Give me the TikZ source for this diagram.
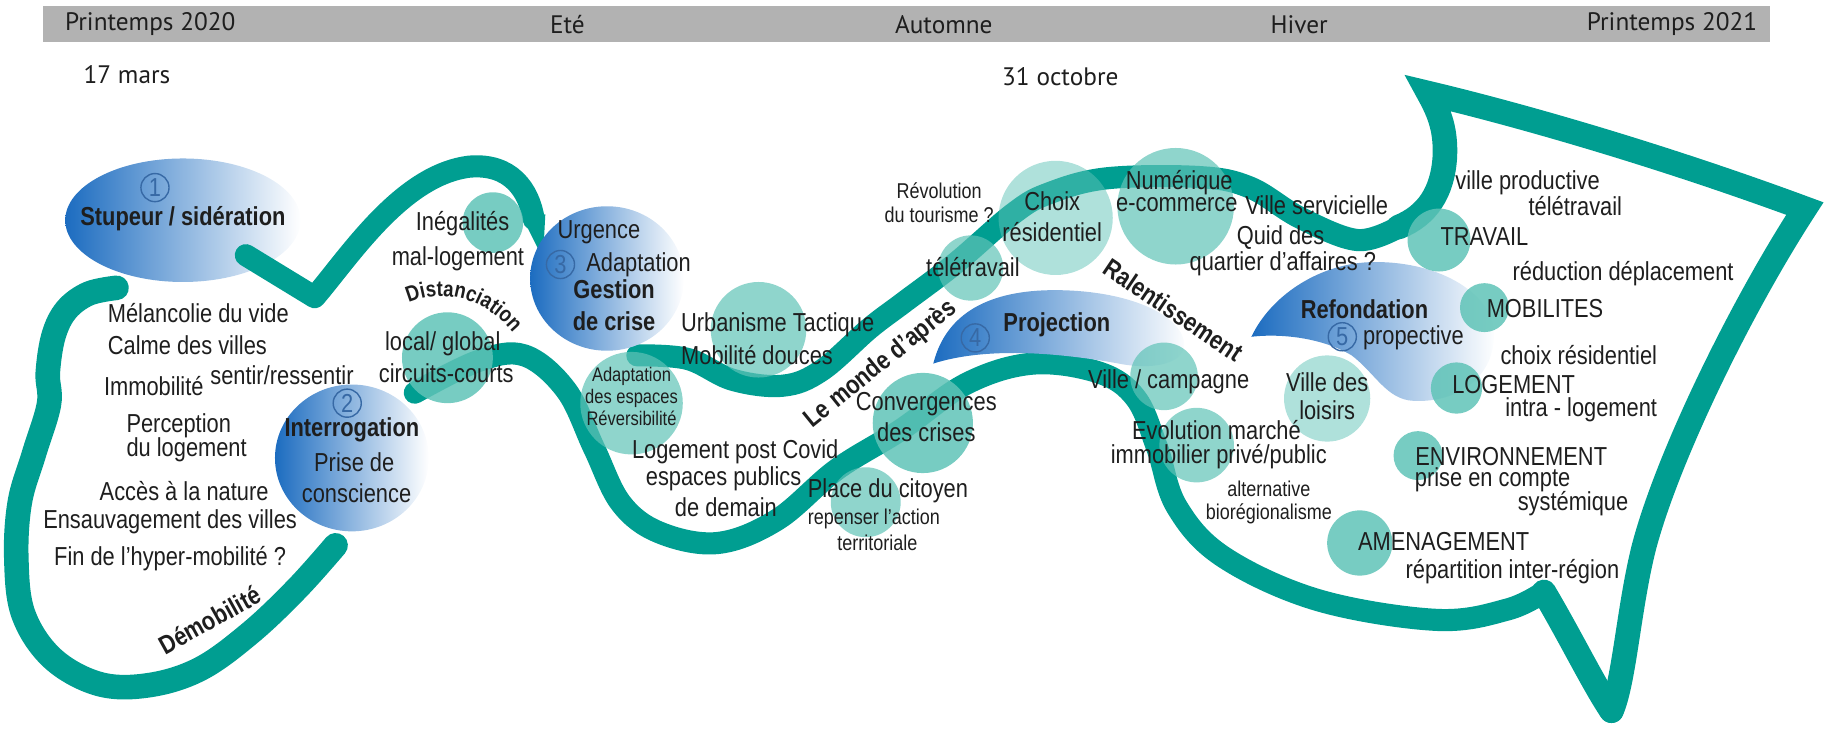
\documentclass[tikz,border=0pt]{standalone}
\usepackage{fontspec}
\setmainfont[FakeStretch=0.84]{Liberation Sans}
\newfontfamily\barfont{PT Sans}
\usetikzlibrary{decorations.text}

\definecolor{ribbonC}{RGB}{0,158,145}
\definecolor{bubbleC}{RGB}{95,195,183}
\definecolor{blueD}{RGB}{28,108,192}
\definecolor{barC}{RGB}{178,178,178}
\definecolor{inkC}{RGB}{30,30,30}
\definecolor{numC}{RGB}{55,105,165}

\tikzset{
    ribbon/.style={draw=ribbonC, line width=6.3pt, line cap=round, line join=round},
    bubble/.style={fill=bubbleC, fill opacity=0.85},
    midbubble/.style={fill=bubbleC, fill opacity=0.7},
    palebubble/.style={fill=bubbleC, fill opacity=0.5},
    blueshade/.style={left color=blueD, right color=white},
    lbl/.style={inner sep=0pt, text=inkC, align=center, font=\fontsize{7.4}{8.9}\selectfont},
    smalllbl/.style={lbl, font=\fontsize{6.1}{6.6}\selectfont},
    phase/.style={lbl, font=\bfseries\fontsize{7.4}{8.9}\selectfont},
    num/.style={circle, draw=numC, line width=0.4pt, text=numC, inner sep=0pt, minimum size=8pt, font=\fontsize{7.4}{8}\selectfont},
    season/.style={inner sep=0pt, text=inkC, font=\barfont\fontsize{7.2}{8}\selectfont}
}

\begin{document}
\begin{tikzpicture}[x=0.011652cm, y=-0.011652cm]
    \useasboundingbox (0,0) rectangle (1568,627);

    \fill[barC] (37,5) rectangle (1519,36);
    \node[season] (spring20) at (129,21) {Printemps 2020};
    \node[season] (summer) at (487,21) {Eté};
    \node[season] (autumn) at (810,21) {Automne};
    \node[season] (winter) at (1115,21) {Hiver};
    \node[season] (spring21) at (1435,21) {Printemps 2021};
    \node[season] (mars) at (109,64) {17 mars};
    \node[season] (octobre) at (910,66) {31 octobre};

    \shade[blueshade] (157,189) ellipse [x radius=101, y radius=53];

    \draw[ribbon, line width=7pt] plot[smooth, tension=0.6] coordinates {(100,247) (76,252) (57,266) (46,288) (41,320) (42,347) (29,390) (17,431) (14,479) (20,527) (45,565) (85,587) (128,588) (172,574) (215,543) (255,505) (288,468)};
    \draw[ribbon] (211,219) -- (270,255) .. controls (300,220) and (345,150) .. (403,143) .. controls (438,140) and (454,163) .. (458,188);
    \fill[ribbonC] (448,186) -- (468,184) -- (466,222) -- cycle;
    \draw[ribbon] plot[smooth, tension=0.6] coordinates {(356,337) (410,310) (450,305) (486,335) (510,385) (533,432) (566,457) (616,466) (667,446) (718,403) (773,369) (830,329) (887,312) (944,320) (975,342) (993,384) (1010,435) (1050,478) (1131,515) (1233,532) (1294,523) (1325,508)};
    \draw[ribbon, line width=7pt] (1325,508) .. controls (1347,545) and (1368,588) .. (1383,610);
    \draw[ribbon, line width=7pt, line join=miter, miter limit=4] (1383,610) .. controls (1394,585) and (1398,520) .. (1411,469) .. controls (1432,390) and (1495,262) .. (1549,179) .. controls (1430,135) and (1310,100) .. (1226,80) .. controls (1236,98) and (1241,112) .. (1240,135) .. controls (1238,165) and (1225,185) .. (1200,195);
    \draw[ribbon] plot[smooth, tension=0.6] coordinates {(1200,195) (1165,206) (1116,187) (1073,161) (1030,152) (950,153) (900,166) (870,183) (820,226) (775,260) (746,282) (705,318) (672,331) (629,326) (590,308) (547,305)};

    \shade[blueshade] (302,393) ellipse [x radius=66, y radius=63];
    \shade[blueshade] (521,239) ellipse [x radius=66, y radius=62];
    \shade[blueshade] (801,312) .. controls (812,268) and (850,249) .. (905,249) .. controls (965,249) and (1010,268) .. (1016,292) .. controls (1020,312) and (990,318) .. (960,312) .. controls (905,302) and (845,298) .. (801,312) -- cycle;
    \shade[blueshade] (1074,289) .. controls (1090,255) and (1130,227) .. (1175,225) .. controls (1232,223) and (1280,250) .. (1282,285) .. controls (1284,322) and (1252,346) .. (1213,344) .. controls (1190,343) and (1180,320) .. (1160,305) .. controls (1135,290) and (1100,286) .. (1074,289) -- cycle;

    \fill[bubble] (423,191) circle [radius=26];
    \fill[bubble] (384,307) circle [radius=39];
    \fill[midbubble] (542,346) circle [radius=44];
    \fill[midbubble] (651,283) circle [radius=41];
    \fill[bubble] (792,363) circle [radius=43];
    \fill[midbubble] (743,431) circle [radius=30];
    \fill[midbubble] (833,230) circle [radius=28];
    \fill[palebubble] (906,187) circle [radius=49];
    \fill[midbubble] (1009,177) circle [radius=50];
    \fill[midbubble] (999,323) circle [radius=29];
    \fill[midbubble] (1027,382) circle [radius=32];
    \fill[palebubble] (1139,342) circle [radius=37];
    \fill[bubble] (1167,466) circle [radius=28];
    \fill[bubble] (1217,391) circle [radius=21];
    \fill[bubble] (1250,333) circle [radius=22];
    \fill[bubble] (1274,264) circle [radius=21];
    \fill[bubble] (1235,206) circle [radius=27];

    \node[num] (one) at (133,161) {1};
    \node[num] (two) at (298,346) {2};
    \node[num] (three) at (481,227) {3};
    \node[num] (four) at (837,290) {4};
    \node[num] (five) at (1152,289) {5};

    \node[phase] (stupeur) at (157,188) {Stupeur / sidération};
    \node[lbl, anchor=west] (melanc) at (92,269) {Mélancolie du vide};
    \node[lbl, anchor=west] (calme) at (92,296) {Calme des villes};
    \node[lbl] (immob) at (132,331) {Immobilité};
    \node[lbl] (sentir) at (242,322) {sentir/ressentir};
    \node[lbl, anchor=west] (percep) at (108,365) {Perception};
    \node[lbl, anchor=west] (dulog) at (108,386) {du logement};
    \node[lbl] (acces) at (158,421) {Accès à la nature};
    \node[lbl] (ensauv) at (146,448) {Ensauvagement des villes};
    \node[lbl] (finhyp) at (146,479) {Fin de l’hyper-mobilité ?};
    \node[phase, rotate=29] (demob) at (180,532) {Démobilité};
    \node[phase] (interro) at (302,369) {Interrogation};
    \node[lbl] (prise) at (304,397) {Prise de};
    \node[lbl] (consc) at (306,423) {conscience};
    \node[lbl] (inegT) at (397,192) {Inégalités};
    \node[lbl] (mallog) at (393,222) {mal-logement};
    \path[decorate, decoration={text along path, text align=center, text={|\bfseries\fontsize{6.3}{7}\selectfont\color{inkC}|Distanciation}}] (347,262) .. controls (372,249) and (412,249) .. (443,289);
    \node[lbl] (locT) at (380,295) {local/ global};
    \node[lbl] (circT) at (383,320) {circuits-courts};

    \node[lbl] (urgence) at (514,199) {Urgence};
    \node[lbl] (adaptT) at (548,227) {Adaptation};
    \node[phase] (gestion) at (527,262) {Gestion\\de crise};
    \node[lbl, anchor=west] (urbT) at (584,279) {Urbanisme Tactique};
    \node[lbl, anchor=west] (mobT) at (584,305) {Mobilité douces};
    \node[lbl, font=\fontsize{5.6}{5.2}\selectfont] (espT) at (542,340) {Adaptation\\des espaces\\Réversibilité};
    \node[lbl] (logpost) at (631,388) {Logement post Covid};
    \node[lbl] (espub) at (621,411) {espaces publics};
    \node[lbl] (demain) at (623,435) {de demain};
    \node[phase, rotate=39] (monde) at (756,313) {Le monde d’après};
    \node[lbl] (convT) at (795,358) {Convergences\\des crises};
    \node[lbl] (placeT) at (762,421) {Place du citoyen};
    \node[smalllbl] (repens) at (750,445) {repenser l’action};
    \node[smalllbl] (territ) at (753,466) {territoriale};
    \node[smalllbl] (revol) at (806,174) {Révolution\\du tourisme ?};
    \node[lbl] (teletT) at (835,229) {télétravail};
    \node[lbl] (choixT) at (903,186) {Choix\\résidentiel};
    \node[lbl] (numT) at (1012,157) {Numérique};
    \node[lbl] (ecomT) at (1010,176) {e-commerce};
    \node[lbl] (servT) at (1130,176) {Ville servicielle};
    \node[lbl] (quidT) at (1099,204) {Quid des};
    \node[lbl] (quartT) at (1101,226) {quartier d’affaires ?};
    \node[phase, rotate=-34] (ralent) at (1007,266) {Ralentissement};
    \node[phase] (projT) at (907,279) {Projection};
    \node[lbl] (campT) at (1003,328) {Ville / campagne};
    \node[lbl] (villedes) at (1139,328) {Ville des};
    \node[lbl] (loisT) at (1139,352) {loisirs};
    \node[lbl] (evolT) at (1044,369) {Evolution marché};
    \node[lbl] (immoT) at (1046,392) {immobilier privé/public};
    \node[smalllbl] (altT) at (1089,431) {alternative\\biorégionalisme};

    \node[lbl] (prodT) at (1311,157) {ville productive};
    \node[lbl] (teleR) at (1352,177) {télétravail};
    \node[lbl] (travT) at (1274,203) {TRAVAIL};
    \node[lbl] (reducT) at (1393,235) {réduction déplacement};
    \node[lbl] (mobiT) at (1326,265) {MOBILITES};
    \node[phase] (refondT) at (1171,265) {Refondation};
    \node[lbl] (propT) at (1213,290) {propective};
    \node[lbl] (choixR) at (1355,305) {choix résidentiel};
    \node[lbl] (logT) at (1299,330) {LOGEMENT};
    \node[lbl] (intraT) at (1357,352) {intra - logement};
    \node[lbl] (envT) at (1297,392) {ENVIRONNEMENT};
    \node[lbl] (priseR) at (1281,412) {prise en compte};
    \node[lbl] (systT) at (1350,432) {systémique};
    \node[lbl] (amenT) at (1239,465) {AMENAGEMENT};
    \node[lbl] (repartT) at (1298,491) {répartition inter-région};
\end{tikzpicture}
\end{document}
